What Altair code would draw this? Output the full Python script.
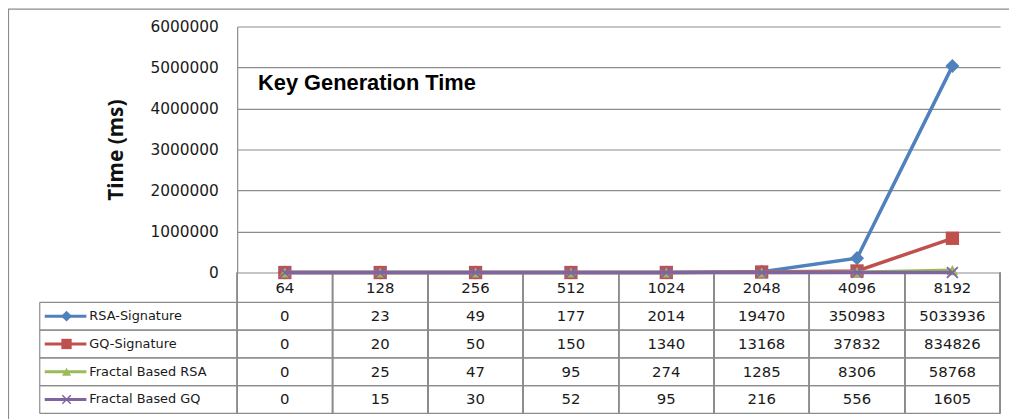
import altair as alt
import pandas as pd

sizes = ["64", "128", "256", "512", "1024", "2048", "4096", "8192"]
series = ["RSA-Signature", "GQ-Signature", "Fractal Based RSA", "Fractal Based GQ"]
rsa = [0, 23, 49, 177, 2014, 19470, 350983, 5033936]
gq = [0, 20, 50, 150, 1340, 13168, 37832, 834826]
frsa = [0, 25, 47, 95, 274, 1285, 8306, 58768]
fgq = [0, 15, 30, 52, 95, 216, 556, 1605]
yticks = [0, 1000000, 2000000, 3000000, 4000000, 5000000, 6000000]
colors = ["#4F81BD", "#C0504D", "#9BBB59", "#8064A2"]
shapes = ["diamond", "square", "triangle-up", "M-1,-1L1,1M1,-1L-1,1"]
msizes = [200, 180, 140, 120]
filled = [True, True, True, False]
chart_title = "Key Generation Time"

rows = []
for s, vals in zip(series, [rsa, gq, frsa, fgq]):
    for k, v in zip(sizes, vals):
        rows.append({"size": k, "series": s, "value": v, "label": str(v)})
df = pd.DataFrame(rows)
one = pd.DataFrame({"a": [0]})
ser_df = pd.DataFrame({"series": series})

W, H = 769, 248
ROW_TOP, ROW_H = 278, 28
TBL_BOTTOM = ROW_TOP + 4 * ROW_H
LEFT_COL = -199
GRID = "#8c8c8c"
TXT = "#1a1a1a"

xscale = alt.Scale(type="band", domain=sizes, paddingInner=0, paddingOuter=0)
xaxis = alt.Axis(title=None, labelAngle=0, domain=False, ticks=False, tickSize=0,
                 grid=False, labelFont="DejaVu Sans", labelFontSize=15,
                 labelColor=TXT, labelPadding=8)


def xe(bp=0.5):
    return alt.X("size:N", sort=sizes, scale=xscale, axis=xaxis, bandPosition=bp)


yscale = alt.Scale(domain=[0, 6000000], nice=False)
yaxis = alt.Axis(values=yticks, format="d", grid=True, gridColor=GRID, gridWidth=1.2,
                 domain=True, domainColor=GRID, domainWidth=1.2, ticks=False,
                 labelFont="DejaVu Sans", labelFontSize=15.5,
                 labelColor=TXT, labelPadding=19, title="Time (ms)", titleFont="Noto Sans",
                 titleFontSize=21, titleFontWeight="bold", titleColor="#111", titlePadding=24)

plot_layers = []
for i, s in enumerate(series):
    base = alt.Chart(df).transform_filter(alt.datum.series == s)
    ye = alt.Y("value:Q", scale=yscale, axis=yaxis)
    plot_layers.append(base.mark_line(color=colors[i], strokeWidth=3.5).encode(x=xe(), y=ye))
    plot_layers.append(
        base.mark_point(shape=shapes[i], size=msizes[i], filled=filled[i], color=colors[i],
                        opacity=1, strokeWidth=1.8).encode(x=xe(), y=ye)
    )
plot_layers.append(
    alt.Chart(one).mark_text(text=chart_title, font="Liberation Sans", fontWeight="bold",
                             fontSize=22, align="left", baseline="middle", color="#000")
    .encode(x=alt.value(21), y=alt.value(57))
)
plot = alt.layer(*plot_layers)

tscale = alt.Scale(type="band", domain=series, range=[ROW_TOP, TBL_BOTTOM],
                   paddingInner=0, paddingOuter=0)


def ty(bp):
    return alt.Y("series:N", sort=series, scale=tscale, axis=None, bandPosition=bp)


tbl_layers = [
    alt.Chart(one).mark_rect(fillOpacity=0, stroke=GRID, strokeWidth=1.2)
    .encode(x=alt.value(-230.5), x2=alt.value(W + 60), y=alt.value(-17.5), y2=alt.value(H + 250)),
    alt.Chart(ser_df).mark_rule(color=GRID, strokeWidth=1.2)
    .encode(y=ty(0), x=alt.value(LEFT_COL), x2=alt.value(W)),
    alt.Chart(ser_df).mark_rule(color=GRID, strokeWidth=1.2)
    .encode(y=ty(1), x=alt.value(LEFT_COL), x2=alt.value(W)),
    alt.Chart(one).mark_rule(color=GRID, strokeWidth=1.2)
    .encode(x=alt.value(LEFT_COL), y=alt.value(ROW_TOP), y2=alt.value(TBL_BOTTOM)),
    alt.Chart(df).mark_rule(color=GRID, strokeWidth=1.2)
    .encode(x=xe(0), y=alt.value(H), y2=alt.value(TBL_BOTTOM)),
    alt.Chart(df).mark_rule(color=GRID, strokeWidth=1.2)
    .encode(x=xe(1), y=alt.value(H), y2=alt.value(TBL_BOTTOM)),
    alt.Chart(df).mark_text(font="DejaVu Sans", fontSize=15, color=TXT, baseline="middle")
    .encode(x=xe(), y=ty(0.5), text="label:N"),
    alt.Chart(ser_df).mark_text(font="DejaVu Sans", fontSize=13, color=TXT, align="left",
                                baseline="middle")
    .encode(x=alt.value(-149), y=ty(0.5), text="series:N"),
]
for i, s in enumerate(series):
    b = alt.Chart(ser_df).transform_filter(alt.datum.series == s)
    tbl_layers.append(
        b.mark_rule(color=colors[i], strokeWidth=3)
        .encode(x=alt.value(-194), x2=alt.value(-152), y=ty(0.5))
    )
    tbl_layers.append(
        b.mark_point(shape=shapes[i], size=msizes[i] * 0.6, filled=filled[i], color=colors[i],
                     opacity=1, strokeWidth=1.5)
        .encode(x=alt.value(-172), y=ty(0.5))
    )
table = alt.layer(*tbl_layers)

chart = (
    alt.layer(table, plot)
    .resolve_scale(y="independent")
    .properties(width=W, height=H, autosize=alt.AutoSizeParams(type="none"),
                padding={"left": 231, "top": 17, "right": 9, "bottom": 146},
                background="white")
    .configure_view(stroke=None)
)

chart.save("out.html", embed_options={"renderer": "svg", "actions": False})
